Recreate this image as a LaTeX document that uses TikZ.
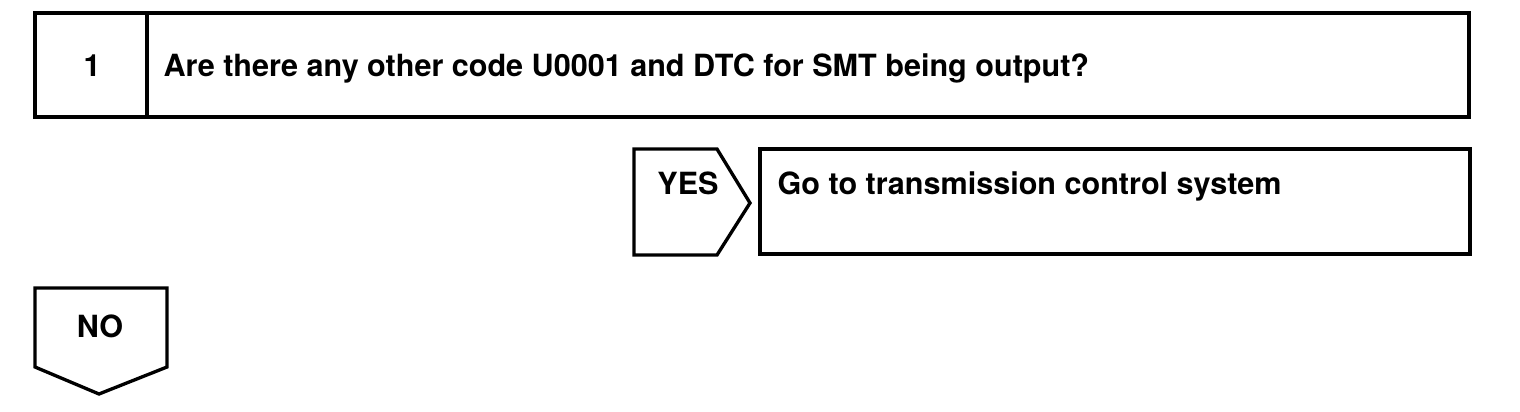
\documentclass[tikz,border=0pt]{standalone}
\usepackage{fontspec}
\setmainfont{TeX Gyre Heros}
\usepackage{tikz}
\usetikzlibrary{
  calc,       % 坐标计算
  positioning % 节点相对定位
}

\begin{document}
\begin{tikzpicture}[x=0.02cm, y=-0.02cm, line width=1.9pt, line join=miter,
  txt/.style={font=\fontsize{17.4}{20}\selectfont\bfseries, inner sep=0pt}]

  % 画布范围（1520 x 412）
  \useasboundingbox (0,0) rectangle (1520,412);

  % =============== 第 1 步：问题框 ===============
  \draw (35,13) rectangle (1469,117);
  \draw (147,13) -- (147,117);
  \node[txt, anchor=base] (num) at (92,77) {1};
  \node[txt, anchor=base west] (question) at (162,77)
    {Are there any other code U0001 and DTC for SMT being output?};

  % =============== YES 分支：箭头形标签 + 结果框 ===============
  \draw (634,149) -- (717,149) -- (750,203) -- (717,255) -- (634,255) -- cycle;
  \node[txt, anchor=base] (yes) at (688,194) {YES};
  \draw (760,149) rectangle (1470,254);
  \node[txt, anchor=base west] (result) at (776,194) {Go to transmission control system};

  % =============== NO 分支：向下箭头形标签 ===============
  \draw (35,288) -- (167,288) -- (167,367) -- (99,394) -- (35,367) -- cycle;
  \node[txt, anchor=base] (no) at (100,337) {NO};

\end{tikzpicture}
\end{document}
